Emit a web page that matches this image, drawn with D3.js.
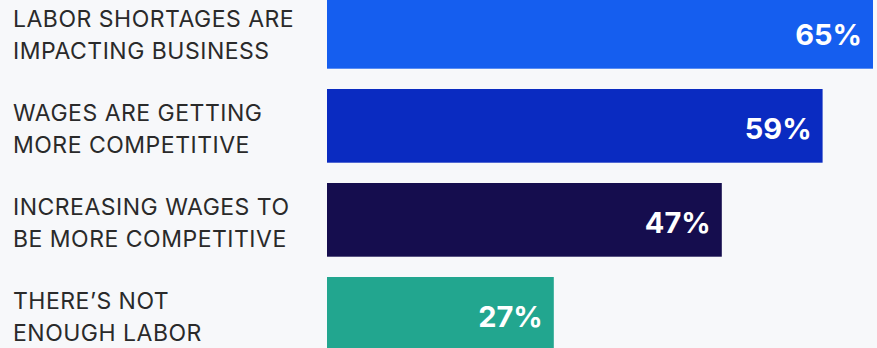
<!DOCTYPE html>
<html>
<head>
<meta charset="utf-8">
<script src="https://cdn.jsdelivr.net/npm/d3@7"></script>
<style>
  html, body { margin: 0; padding: 0; background: #f7f8fa; overflow: hidden; }
</style>
</head>
<body>
<div id="chart"></div>
<script>
// chart data
var categories = [
  ['LABOR SHORTAGES ARE', 'IMPACTING BUSINESS'],
  ['WAGES ARE GETTING', 'MORE COMPETITIVE'],
  ['INCREASING WAGES TO', 'BE MORE COMPETITIVE'],
  ['THERE\u2019S NOT', 'ENOUGH LABOR']
];
var values = [65, 59, 47, 27];
var valueLabels = ['65%', '59%', '47%', '27%'];
var colors = ['#155eef', '#0a2bc1', '#150d4e', '#22a68f'];

d3main();

function d3main() {
  var w = 877;
  var h = 348;

  var svg = d3.select('#chart').append('svg')
    .attr('width', w)
    .attr('height', h)
    .style('display', 'block');

  svg.append('rect')
    .attr('width', w)
    .attr('height', h)
    .attr('fill', '#f7f8fa');

  var idx = d3.range(values.length);

  var x = d3.scaleLinear()
    .domain([0, 100])
    .range([327, 327 + 840]);

  var y = d3.scaleBand()
    .domain(idx)
    .range([-5, 350.7])
    .paddingInner(0.216)
    .paddingOuter(0);

  var row = svg.selectAll('g.row')
    .data(idx)
    .enter()
    .append('g')
    .attr('class', 'row');

  row.append('rect')
    .attr('x', x(0))
    .attr('y', function(d){ return y(d); })
    .attr('width', function(d){ return x(values[d]) - x(0); })
    .attr('height', y.bandwidth())
    .attr('fill', function(d){ return colors[d]; });

  row.append('text')
    .attr('x', function(d){ return x(values[d]) - 11; })
    .attr('y', function(d){ return y(d) + 50; })
    .attr('text-anchor', 'end')
    .attr('fill', '#ffffff')
    .style('font-family', 'Inter, sans-serif')
    .style('font-weight', 700)
    .style('font-size', '29px')
    .text(function(d){ return valueLabels[d]; });

  var lab = row.append('text')
    .attr('fill', '#2a2a2a')
    .style('font-family', 'Inter, sans-serif')
    .style('font-size', '23px')
    .style('letter-spacing', '0.5px');

  lab.selectAll('tspan')
    .data(function(d){ return categories[d].map(function(t, j){ return {t: t, j: j, d: d}; }); })
    .enter()
    .append('tspan')
    .attr('x', 13)
    .attr('y', function(o){ return y(o.d) + 31.5 + o.j * 32; })
    .text(function(o){ return o.t; });
}
</script>
</body>
</html>
